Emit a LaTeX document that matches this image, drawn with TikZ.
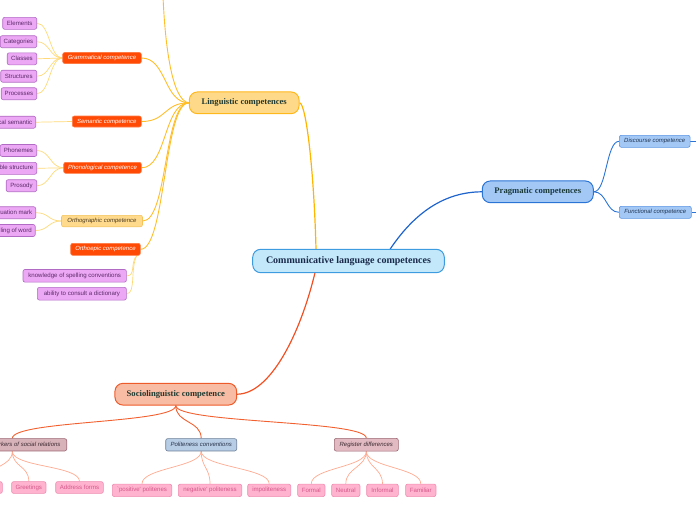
\documentclass[tikz,border=0pt]{standalone}
\usepackage{fontspec}
\usetikzlibrary{backgrounds}
\setmainfont{Liberation Serif}
\newfontfamily\sansf{Liberation Sans}
\definecolor{cfill}{HTML}{C3E8FA}\definecolor{cline}{HTML}{3D9BE0}\definecolor{ctext}{HTML}{1A2A4A}
\definecolor{lfill}{HTML}{FFD98A}\definecolor{lline}{HTML}{FFB81C}\definecolor{ltext}{HTML}{203A30}
\definecolor{pfill}{HTML}{A4C8F6}\definecolor{pline}{HTML}{2A74D6}\definecolor{ptext}{HTML}{1A3A3A}
\definecolor{sfill}{HTML}{F8BBA4}\definecolor{sline}{HTML}{EE5B2A}\definecolor{stext}{HTML}{1F3A30}
\definecolor{rfill}{HTML}{FF4A06}\definecolor{rline}{HTML}{FF7B45}
\definecolor{ofill}{HTML}{FFDA8C}\definecolor{oline}{HTML}{F5C35A}\definecolor{otext}{HTML}{4A3A20}
\definecolor{vfill}{HTML}{ECA8F4}\definecolor{vline}{HTML}{B16BC4}\definecolor{vtext}{HTML}{5B2B6B}
\definecolor{qline}{HTML}{5B94E2}\definecolor{qtext}{HTML}{1F3550}
\definecolor{mfill}{HTML}{D8B2B9}\definecolor{mline}{HTML}{9C6672}\definecolor{mtext}{HTML}{3C2A32}
\definecolor{nfill}{HTML}{B7CCE5}\definecolor{nline}{HTML}{6D7F97}\definecolor{ntext}{HTML}{283448}
\definecolor{gfill}{HTML}{E2BBC2}
\definecolor{kfill}{HTML}{FFB3CE}\definecolor{kline}{HTML}{EE8CB0}\definecolor{ktext}{HTML}{D4588A}
\definecolor{goldA}{HTML}{FFB500}\definecolor{goldB}{HTML}{FFBE28}\definecolor{goldC}{HTML}{FFD978}
\definecolor{blueA}{HTML}{1E64CC}\definecolor{redA}{HTML}{F25022}\definecolor{redB}{HTML}{F26030}\definecolor{salm}{HTML}{FFAA90}
\begin{document}
\begin{tikzpicture}[x=1pt,y=-1pt,
  mainbox/.style={draw, line width=1pt, rounded corners=8pt, inner sep=0pt, minimum height=21.7pt, font=\bfseries\fontsize{8.6}{10}\selectfont},
  smallbox/.style={draw, line width=0.6pt, rounded corners=2pt, inner sep=0pt, minimum height=12pt},
  subbox/.style={smallbox, font=\sansf\itshape\fontsize{6}{7}\selectfont},
  leafbox/.style={smallbox, font=\sansf\fontsize{6.1}{7}\selectfont},
  redsub/.style={subbox, fill=rfill, draw=rline, text=white},
  vleaf/.style={leafbox, fill=vfill, draw=vline, text=vtext, anchor=east, inner xsep=3.5pt},
  kleaf/.style={leafbox, fill=kfill, draw=kline, text=ktext, minimum height=12.5pt},
  lingA/.style={draw=goldA, line width=1.2pt},
  lingB/.style={draw=goldB, line width=0.9pt},
  lingC/.style={draw=goldC, line width=0.7pt},
  pragA/.style={draw=blueA, line width=1.2pt},
  pragB/.style={draw=pline, line width=0.9pt},
  socA/.style={draw=redA, line width=1.2pt},
  socB/.style={draw=redB, line width=0.9pt},
  socC/.style={draw=salm, line width=0.7pt}
]
\useasboundingbox (0,0) rectangle (696,520);

% main nodes
\node[mainbox, fill=cfill, draw=cline, text=ctext, minimum width=191.6pt, minimum height=23.4pt, font=\bfseries\fontsize{10}{12}\selectfont] (comm) at (348.5,261) {Communicative language competences};
\node[mainbox, fill=lfill, draw=lline, text=ltext, minimum width=109.7pt] (ling) at (244.2,102.8) {Linguistic competences};
\node[mainbox, fill=pfill, draw=pline, text=ptext, minimum width=111pt] (prag) at (537.8,191.8) {Pragmatic competences};
\node[mainbox, fill=sfill, draw=sline, text=stext, minimum width=121.7pt] (soc) at (175.8,394.2) {Sociolinguistic competence};

% linguistic sub nodes
\node[redsub, minimum width=78.6pt, minimum height=11pt] (gram) at (102,58) {Grammatical competence};
\node[redsub, minimum width=69pt, minimum height=11pt] (sem) at (106.8,121.5) {Semantic competence};
\node[redsub, minimum width=77.6pt, minimum height=11pt] (phon) at (102.5,167.8) {Phonological competence};
\node[subbox, fill=ofill, draw=oline, text=otext, minimum width=81pt, minimum height=11.4pt] (orth) at (102,221) {Orthographic competence};
\node[redsub, minimum width=69.6pt] (oep) at (105.5,249.3) {Orthoepic competence};

% linguistic leaves
\node[vleaf, minimum width=34pt] (el) at (37,23.3) {Elements};
\node[vleaf, minimum width=36pt] (cat) at (37,41.7) {Categories};
\node[vleaf, minimum width=29.5pt] (cla) at (37,58.8) {Classes};
\node[vleaf, minimum width=36pt] (str) at (37,76.2) {Structures};
\node[vleaf, minimum width=34.5pt] (pro) at (37,93.7) {Processes};
\node[vleaf] (lex) at (36,122.2) {Lexical semantic};
\node[vleaf, minimum width=36.5pt] (pho) at (37,150.5) {Phonemes};
\node[vleaf] (syl) at (37,168.3) {Syllable structure};
\node[vleaf, minimum width=30.5pt] (pros) at (37,185.7) {Prosody};
\node[vleaf] (pun) at (36,212.7) {Punctuation mark};
\node[vleaf] (spw) at (35.5,230.5) {Spelling of word};
\node[vleaf, minimum width=103.4pt, minimum height=12.7pt] (kno) at (126.7,275.8) {knowledge of spelling conventions};
\node[vleaf, minimum width=89pt, minimum height=12.7pt] (abi) at (126.7,293.7) {ability to consult a dictionary};

% pragmatic sub nodes
\node[subbox, fill=pfill, draw=qline, text=qtext, minimum width=70.7pt] (disc) at (654.7,141.3) {Discourse competence};
\node[subbox, fill=pfill, draw=qline, text=qtext, minimum width=72pt] (func) at (655.3,212.3) {Functional competence};
\coordinate (discout) at (700,141.3);
\coordinate (funcout) at (700,212.3);

% sociolinguistic sub nodes
\node[subbox, fill=mfill, draw=mline, text=mtext, minimum width=108.8pt, minimum height=12.3pt] (mark) at (12.3,444.8) {Linguistic markers of social relations};
\node[subbox, fill=nfill, draw=nline, text=ntext, minimum width=71pt, minimum height=12.3pt] (poli) at (201.2,444.8) {Politeness conventions};
\node[subbox, fill=gfill, draw=mline, text=mtext, minimum width=64pt, minimum height=12.7pt] (reg) at (366.3,444.7) {Register differences};

% sociolinguistic leaves
\node[kleaf, minimum width=30pt, minimum height=11.7pt] (use) at (-12.7,487.5) {};
\node[kleaf, minimum width=34.3pt, minimum height=11.7pt] (gre) at (28.8,487.5) {Greetings};
\node[kleaf, minimum width=47.6pt, minimum height=11.7pt] (adf) at (79.5,487.5) {Address forms};
\node[kleaf, minimum width=59.4pt] (pos) at (142,490.3) {`positive' politenes};
\node[kleaf, minimum width=63.4pt] (neg) at (210,490.3) {negative' politeness};
\node[kleaf, minimum width=43pt] (imp) at (269.2,490.3) {impoliteness};
\node[kleaf, minimum width=27.3pt] (for) at (311.3,490.3) {Formal};
\node[kleaf, minimum width=28.3pt] (neu) at (345.8,490.3) {Neutral};
\node[kleaf, minimum width=31.6pt] (inf) at (382.5,490.3) {Informal};
\node[kleaf, minimum width=30.3pt] (fam) at (420.8,490.3) {Familiar};

\coordinate (commtop) at (316,249.3);
\coordinate (commtopr) at (390,249.3);
\coordinate (commbot) at (315,272.7);
\coordinate (lingup) at (163,-4);
\coordinate (oepout) at (137,255.3);

\begin{scope}[on background layer]
% main connectors
\draw[lingA] (commtop) .. controls (314,170) and (306,103) .. (ling.east);
\draw[pragA] (commtopr) .. controls (415,212) and (445,192) .. (prag.west);
\draw[socA] (commbot) .. controls (300,335) and (270,394) .. (soc.east);

% linguistic to subs
\draw[lingB] (ling.west) .. controls (172,101) and (165,45) .. (lingup);
\draw[lingB] (ling.west) .. controls +(-25,0) and +(25,0) .. (gram.east);
\draw[lingB] (ling.west) .. controls +(-25,0) and +(25,0) .. (sem.east);
\draw[lingB] (ling.west) .. controls +(-25,0) and +(25,0) .. (phon.east);
\draw[lingB] (ling.west) .. controls +(-25,0) and +(25,0) .. (orth.east);
\draw[lingB] (ling.west) .. controls +(-25,0) and +(25,0) .. (oep.east);

% subs to leaves
\foreach \l in {el,cat,cla,str,pro}{\draw[lingC] (gram.west) .. controls +(-13,0) and +(13,0) .. (\l.east);}
\draw[lingC] (sem.west) -- (lex.east);
\foreach \l in {pho,syl,pros}{\draw[lingC] (phon.west) .. controls +(-13,0) and +(13,0) .. (\l.east);}
\foreach \l in {pun,spw}{\draw[lingC] (orth.west) .. controls +(-13,0) and +(13,0) .. (\l.east);}
\draw[lingC] (oepout) .. controls (130,262) and (136,276) .. (kno.east);
\draw[lingC] (oepout) .. controls (130,268) and (136,293.7) .. (abi.east);

% pragmatic
\draw[pragB] (prag.east) .. controls +(13,0) and +(-13,0) .. (disc.west);
\draw[pragB] (prag.east) .. controls +(13,0) and +(-13,0) .. (func.west);
\draw[pragB] (disc.east) -- (discout);
\draw[pragB] (func.east) -- (funcout);

% sociolinguistic
\draw[socB] (soc.south) .. controls +(0,18) and +(0,-18) .. (mark.north);
\draw[socB] (soc.south) .. controls +(0,18) and +(0,-18) .. (poli.north);
\draw[socB] (soc.south) .. controls +(0,18) and +(0,-18) .. (reg.north);
\foreach \l in {use,gre,adf}{\draw[socC] (mark.south) .. controls +(0,16) and +(0,-16) .. (\l.north);}
\foreach \l in {pos,neg,imp}{\draw[socC] (poli.south) .. controls +(0,16) and +(0,-16) .. (\l.north);}
\foreach \l in {for,neu,inf,fam}{\draw[socC] (reg.south) .. controls +(0,16) and +(0,-16) .. (\l.north);}
\end{scope}
\end{tikzpicture}
\end{document}
